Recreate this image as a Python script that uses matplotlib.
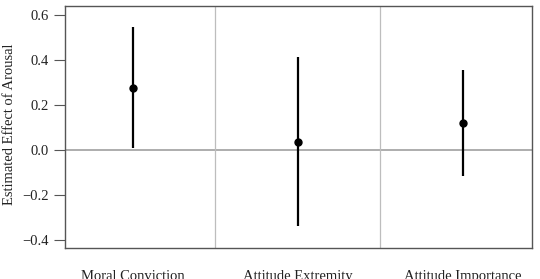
import numpy as np
import matplotlib.pyplot as plt

plt.rcParams['font.family'] = ['Liberation Serif', 'DejaVu Serif']

categories = ['Moral Conviction', 'Attitude Extremity', 'Attitude Importance']
estimates = [0.275, 0.035, 0.12]
lower = [0.01, -0.34, -0.115]
upper = [0.545, 0.415, 0.355]

x = np.arange(1, len(categories) + 1)

fig = plt.figure(figsize=(5.4, 2.79), dpi=100)
ax = fig.add_axes([0.1204, 0.111, 0.8646, 0.8675])

ax.axhline(0, color='#a0a0a0', lw=1.2, zorder=1)
for sep in x[:-1] + 0.5:
    ax.axvline(sep, color='#bdbdbd', lw=0.9, zorder=1)

ax.vlines(x, lower, upper, color='black', lw=1.6, zorder=2)
ax.plot(x, estimates, 'o', color='black', ms=5, zorder=3)

ax.set_xlim(0.588, 3.418)
ax.set_ylim(-0.436, 0.64)
ax.set_yticks([-0.4, -0.2, 0.0, 0.2, 0.4, 0.6])
ax.set_yticklabels(['\u22120.4', '\u22120.2', '0.0', '0.2', '0.4', '0.6'])
ax.set_xticks([])
for xi, lab in zip(x, categories):
    ax.text(xi, -0.436 - 22 / 225, lab, ha='center', va='top',
            fontsize=10.5, color='#222222', clip_on=False)

for s in ax.spines.values():
    s.set_color('#555555')
    s.set_linewidth(1.0)
ax.tick_params(axis='y', direction='out', length=8, width=0.8, color='#555555',
               labelsize=10.5, labelcolor='#222222', pad=3.5)
ax.set_ylabel('Estimated Effect of Arousal', fontsize=10.5, color='#222222',
              va='center')
ax.yaxis.set_label_coords(-0.118, 0.51)

fig.savefig('out.png', dpi=100)
